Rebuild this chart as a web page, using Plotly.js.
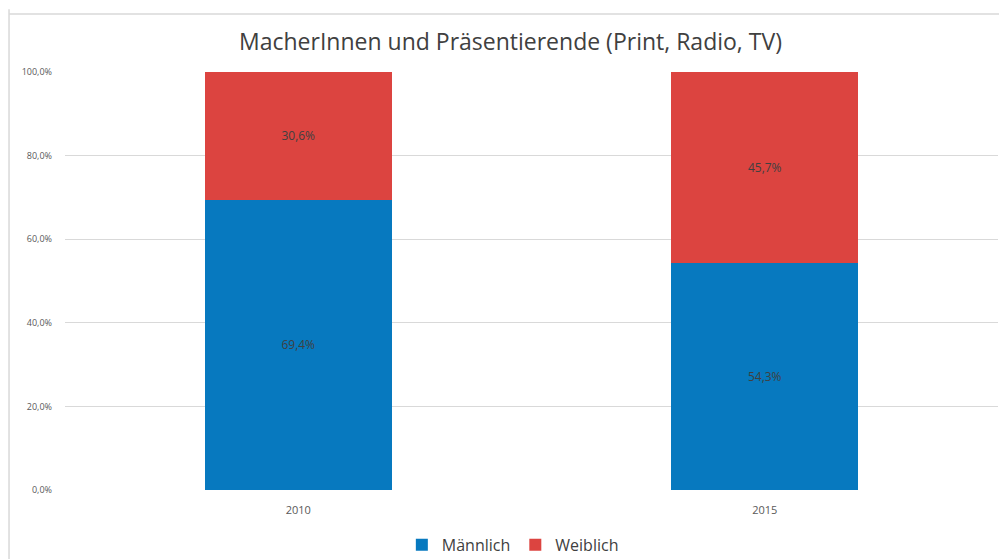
<!DOCTYPE html>
<html><head><meta charset="utf-8">
<script src="https://cdn.plot.ly/plotly-3.0.1.min.js"></script>
<style>html,body{margin:0;padding:0;background:#fff}#c{width:999px;height:559px}</style>
</head><body><div id="c"></div>
<script>
const years = ['2010', '2015'];
const maennlich = [69.4, 54.3];
const weiblich = [30.6, 45.7];
const yTicks = [0, 20, 40, 60, 80, 100];
const yTickText = ['0,0%', '20,0%', '40,0%', '60,0%', '80,0%', '100,0%'];

const common = {type:'bar', textposition:'inside', insidetextanchor:'middle',
  texttemplate:'%{y:.1f}%', textfont:{family:'Open Sans, sans-serif', size:12, color:'#404040'},
  hoverinfo:'skip'};
const data = [
  Object.assign({}, common, {x: years, y: maennlich, name:'Männlich', marker:{color:'#0779BF', line:{width:0}}}),
  Object.assign({}, common, {x: years, y: weiblich, name:'Weiblich', marker:{color:'#DC4440', line:{width:0}}})
];
const layout = {
  width:999, height:559, barmode:'stack', bargap:0.6, separators:',.',
  margin:{l:65, r:1, t:72, b:69, autoexpand:false},
  paper_bgcolor:'#fff', plot_bgcolor:'#fff',
  font:{family:'Open Sans, sans-serif', color:'#595959'},
  title:{text:'MacherInnen und Präsentierende (Print, Radio, TV)', x:0.511, xanchor:'center', y:0.925, yanchor:'middle',
    font:{family:'Open Sans, sans-serif', size:23, color:'#404040'}},
  xaxis:{type:'category', showgrid:false, zeroline:false, showline:false, ticks:'',
    tickfont:{size:11, color:'#595959'}, ticklabelstandoff:12},
  yaxis:{range:[0,100], tickvals:yTicks, ticktext:yTickText, showgrid:true, gridcolor:'#d9d9d9',
    gridwidth:1, zeroline:false, showline:false, ticks:'', ticklabelstandoff:12, tickfont:{size:9, color:'#595959'}},
  legend:{orientation:'h', x:0.48, xanchor:'center', y:-0.131, yanchor:'middle', font:{size:16, color:'#404040'},
    traceorder:'normal', itemwidth:30},
  showlegend:true,
  shapes:[
    {type:'line', xref:'paper', yref:'paper', x0:-0.06, x1:-0.06, y0:-0.2, y1:1.15, line:{color:'#d9d9d9', width:1.5}},
    {type:'line', xref:'paper', yref:'paper', x0:-0.06, x1:1.01, y0:1.1385, y1:1.1385, line:{color:'#d9d9d9', width:1.5}}
  ]
};
Plotly.newPlot('c', data, layout, {staticPlot:true});
</script></body></html>
